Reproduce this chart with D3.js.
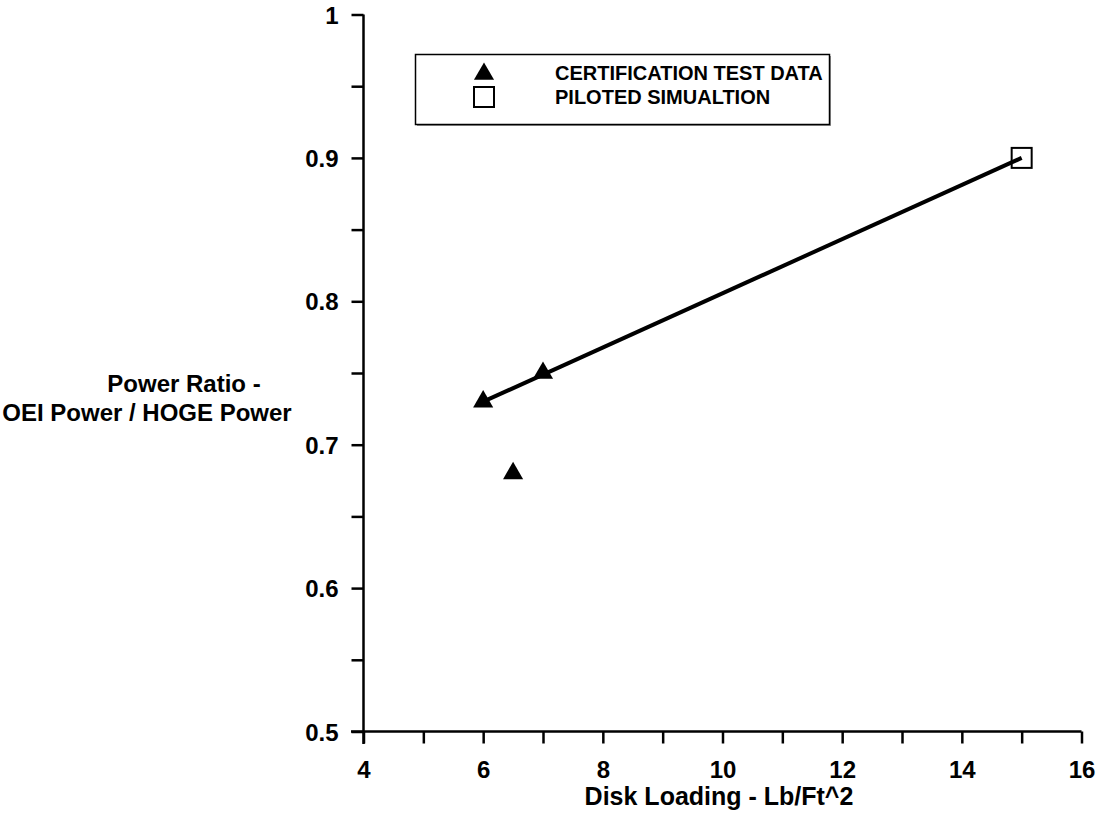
<!DOCTYPE html>
<html><head><meta charset="utf-8">
<script src="https://cdn.jsdelivr.net/npm/d3@7"></script>
<style>body{margin:0;background:#fff}text{font-family:"Liberation Sans",Arial,sans-serif;font-weight:bold}</style>
</head><body><svg id="c" width="1100" height="813"></svg>
<script>
const certX = [6, 6.5, 7];
const certY = [0.73, 0.68, 0.75];
const simX = [15];
const simY = [0.9];
const lineX = [6, 15];
const lineY = [0.73, 0.9];
const xTicks = [4, 6, 8, 10, 12, 14, 16];
const yTicks = [0.5, 0.6, 0.7, 0.8, 0.9, 1];
const legendLabels = ["CERTIFICATION TEST DATA", "PILOTED SIMUALTION"];

const svg = d3.select("#c");
const x = d3.scaleLinear().domain([4, 16]).range([363.5, 1081.5]);
const y = d3.scaleLinear().domain([0.5, 1]).range([731.5, 14.5]);

// x axis
const xa = svg.append("g").attr("transform", "translate(0,731.5)")
  .call(d3.axisBottom(x).tickValues(d3.range(4, 16.01, 1)).tickSize(12)
    .tickFormat(d => xTicks.includes(d) ? d : ""));
xa.select(".domain").attr("d", `M351,0H${x(16)}`).attr("stroke-width", 2.5);
xa.selectAll(".tick line").attr("stroke-width", 2.5);
xa.selectAll(".tick text").attr("font-size", 24).attr("dy", 0).attr("y", 46).attr("fill", "#000");

// y axis
const ya = svg.append("g").attr("transform", "translate(363.5,0)")
  .call(d3.axisLeft(y).tickValues(d3.range(0, 11).map(i => 0.5 + i * 0.05)).tickSize(12)
    .tickFormat(d => yTicks.some(t => Math.abs(t - d) < 1e-9) ? d3.format("")(+d.toFixed(2)) : ""));
ya.select(".domain").attr("d", `M0,${y(1)}V744`).attr("stroke-width", 2.5);
ya.selectAll(".tick line").attr("stroke-width", 2.5);
ya.selectAll(".tick text").attr("font-size", 24).attr("x", -25).attr("dy", "0.36em").attr("fill", "#000");
svg.selectAll(".tick text").attr("font-family", "Liberation Sans, Arial, sans-serif").attr("font-weight", "bold");

// axis titles
svg.append("text").attr("x", 719).attr("y", 805).attr("text-anchor", "middle").attr("font-size", 25).text("Disk Loading - Lb/Ft^2");
svg.append("text").attr("x", 184).attr("y", 392).attr("text-anchor", "middle").attr("font-size", 24).text("Power Ratio -");
svg.append("text").attr("x", 147).attr("y", 421).attr("text-anchor", "middle").attr("font-size", 24).text("OEI Power / HOGE Power");

// line
svg.append("path").datum(lineX.map((d, i) => [d, lineY[i]]))
  .attr("d", d3.line().x(d => x(d[0])).y(d => y(d[1])))
  .attr("fill", "none").attr("stroke", "#000").attr("stroke-width", 4);

const tri = d3.symbol().type(d3.symbolTriangle).size(175);
svg.selectAll(".cert").data(certX.map((d, i) => [d, certY[i]])).join("path")
  .attr("transform", d => `translate(${x(d[0])},${y(d[1])})`).attr("d", tri).attr("fill", "#000");

svg.selectAll(".sim").data(simX.map((d, i) => [d, simY[i]])).join("rect")
  .attr("x", d => x(d[0]) - 10).attr("y", d => y(d[1]) - 10).attr("width", 20).attr("height", 20)
  .attr("fill", "none").attr("stroke", "#000").attr("stroke-width", 2);

// legend
const lg = svg.append("g");
lg.append("rect").attr("x", 417).attr("y", 56).attr("width", 414).attr("height", 70).attr("fill", "#999");
lg.append("rect").attr("x", 415.5).attr("y", 54.5).attr("width", 414).attr("height", 70)
  .attr("fill", "#fff").attr("stroke", "#000").attr("stroke-width", 1.5);
lg.append("path").attr("transform", "translate(484,74)").attr("d", tri).attr("fill", "#000");
lg.append("rect").attr("x", 474).attr("y", 87).attr("width", 20).attr("height", 20).attr("fill", "none").attr("stroke", "#000").attr("stroke-width", 2);
legendLabels.forEach((t, i) => {
  lg.append("text").attr("x", 555).attr("y", 80 + i * 24).attr("font-size", 20).text(t);
});
</script></body></html>
